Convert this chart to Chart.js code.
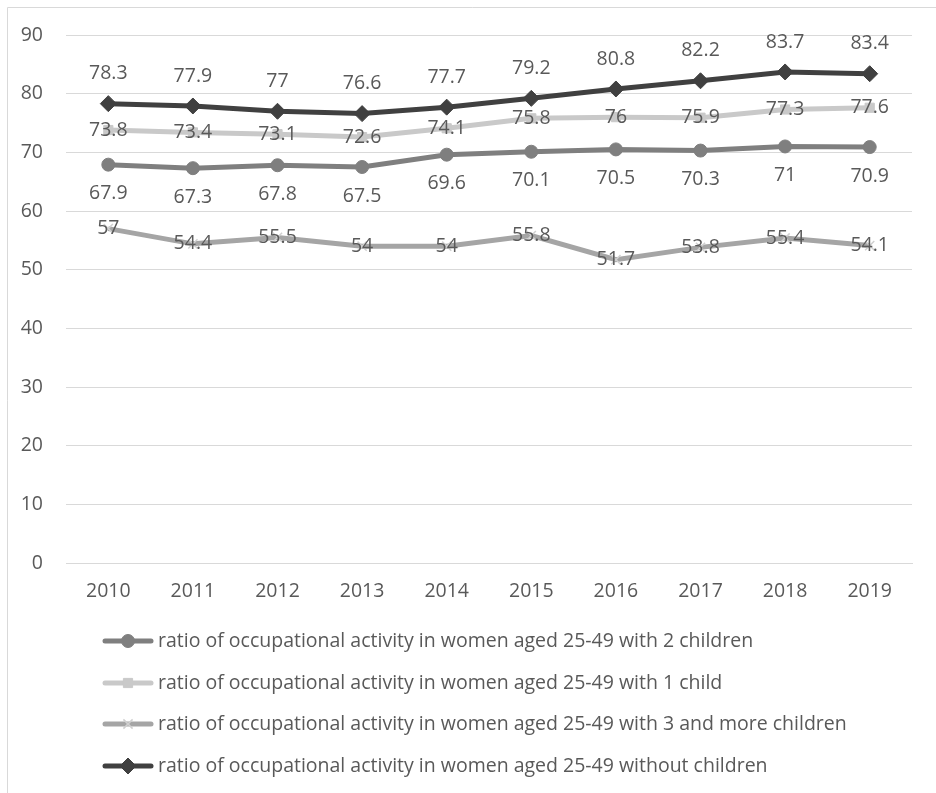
<!DOCTYPE html>
<html>
<head>
<meta charset="utf-8">
<script src="https://cdn.jsdelivr.net/npm/chart.js@4/dist/chart.umd.min.js"></script>
<style>
  html, body { margin: 0; padding: 0; background: #ffffff; }
  #wrap { position: relative; width: 936px; height: 793px; overflow: hidden; }
  canvas { display: block; }
</style>
</head>
<body>
<div id="wrap"><canvas id="chart" width="936" height="793"></canvas></div>
<script>
// Occupational activity of women aged 25-49, by number of children
const years = ['2010', '2011', '2012', '2013', '2014', '2015', '2016', '2017', '2018', '2019'];
const twoChildren = [67.9, 67.3, 67.8, 67.5, 69.6, 70.1, 70.5, 70.3, 71, 70.9];
const oneChild = [73.8, 73.4, 73.1, 72.6, 74.1, 75.8, 76, 75.9, 77.3, 77.6];
const threeOrMore = [57, 54.4, 55.5, 54, 54, 55.8, 51.7, 53.8, 55.4, 54.1];
const noChildren = [78.3, 77.9, 77, 76.6, 77.7, 79.2, 80.8, 82.2, 83.7, 83.4];
const yTicks = [0, 10, 20, 30, 40, 50, 60, 70, 80, 90];

const FONT = '"Open Sans", Lato, sans-serif';
const FONT_SIZE = 19.5;
const TEXT = '#595959';

// Series, in legend order; labelPos says where each value label sits
const series = [
  { label: 'ratio of occupational activity in women aged 25-49 with 2 children',
    data: twoChildren, color: '#7f7f7f', style: 'circle', radius: 6.5, labelPos: 'below' },
  { label: 'ratio of occupational activity in women aged 25-49 with 1 child',
    data: oneChild, color: '#c9c9c9', style: 'rect', radius: 6.5, labelPos: 'center' },
  { label: 'ratio of occupational activity in women aged 25-49 with 3 and more children',
    data: threeOrMore, color: '#a5a5a5', style: 'crossRot', radius: 6.5, labelPos: 'center' },
  { label: 'ratio of occupational activity in women aged 25-49 without children',
    data: noChildren, color: '#404040', style: 'rectRot', radius: 8, labelPos: 'above' }
];

// Value labels drawn next to every point
const valueLabels = {
  id: 'valueLabels',
  afterDatasetsDraw(chart) {
    const ctx = chart.ctx;
    ctx.save();
    ctx.font = FONT_SIZE + 'px ' + FONT;
    ctx.fillStyle = TEXT;
    ctx.textAlign = 'center';
    ctx.textBaseline = 'middle';
    chart.data.datasets.forEach((ds, i) => {
      const meta = chart.getDatasetMeta(i);
      meta.data.forEach((pt, j) => {
        let y = pt.y;
        if (ds.labelPos === 'above') y -= 30;
        if (ds.labelPos === 'below') y += 29;
        ctx.fillText(String(ds.data[j]), pt.x, y);
      });
    });
    ctx.restore();
  }
};

// Stacked legend under the plot, plus the frame line
const stackedLegend = {
  id: 'stackedLegend',
  afterDraw(chart) {
    const ctx = chart.ctx;
    ctx.save();
    // frame
    ctx.strokeStyle = '#d9d9d9';
    ctx.lineWidth = 1;
    ctx.beginPath();
    ctx.moveTo(7.5, 800);
    ctx.lineTo(7.5, 7.5);
    ctx.lineTo(940, 7.5);
    ctx.stroke();

    const rows = [641, 683, 724, 766];
    const x0 = 103, x1 = 153;
    ctx.font = FONT_SIZE + 'px ' + FONT;
    ctx.textBaseline = 'middle';
    ctx.textAlign = 'left';
    chart.data.datasets.forEach((ds, i) => {
      const y = rows[i];
      ctx.strokeStyle = ds.borderColor;
      ctx.lineWidth = 5;
      ctx.lineCap = 'round';
      ctx.beginPath();
      ctx.moveTo(x0 + 2, y);
      ctx.lineTo(x1 - 2, y);
      ctx.stroke();
      ctx.lineCap = 'butt';
      const cross = ds.pointStyle === 'crossRot';
      ctx.fillStyle = ds.borderColor;
      ctx.strokeStyle = cross ? '#d0d0d0' : ds.borderColor;
      ctx.lineWidth = cross ? 1.5 : 1;
      Chart.helpers.drawPoint(ctx, {
        pointStyle: ds.pointStyle,
        radius: ds.pointRadius,
        borderWidth: ctx.lineWidth,
        rotation: 0
      }, (x0 + x1) / 2, y);
      ctx.fillStyle = TEXT;
      ctx.fillText(ds.label, x1 + 5, y);
    });
    ctx.restore();
  }
};

const datasets = series.map(s => ({
  label: s.label,
  data: s.data,
  borderColor: s.color,
  backgroundColor: s.color,
  pointBackgroundColor: s.style === 'crossRot' ? 'rgba(0,0,0,0)' : s.color,
  pointBorderColor: s.style === 'crossRot' ? '#d0d0d0' : s.color,
  pointBorderWidth: s.style === 'crossRot' ? 1.5 : 1,
  borderWidth: 5,
  pointStyle: s.style,
  pointRadius: s.radius,
  pointHoverRadius: s.radius,
  tension: 0,
  labelPos: s.labelPos
}));

new Chart(document.getElementById('chart'), {
  type: 'line',
  data: { labels: years, datasets: datasets },
  options: {
    responsive: false,
    animation: false,
    events: [],
    layout: { padding: { top: 35, left: 0, right: 24, bottom: 180 } },
    plugins: {
      legend: { display: false },
      tooltip: { enabled: false }
    },
    scales: {
      x: {
        offset: true,
        grid: { display: false, drawTicks: false },
        border: { display: true, color: '#d9d9d9', width: 1 },
        ticks: { color: TEXT, font: { family: FONT, size: FONT_SIZE }, padding: 17, maxRotation: 0 },
        afterFit(scale) { scale.height = 50; }
      },
      y: {
        min: 0,
        max: 90,
        afterBuildTicks(scale) { scale.ticks = yTicks.map(v => ({ value: v })); },
        grid: { color: '#d9d9d9', lineWidth: 1, drawTicks: false },
        border: { display: false },
        ticks: { color: TEXT, font: { family: FONT, size: FONT_SIZE }, padding: 23 },
        afterFit(scale) { scale.width = 66; }
      }
    }
  },
  plugins: [valueLabels, stackedLegend]
});
</script>
</body>
</html>
